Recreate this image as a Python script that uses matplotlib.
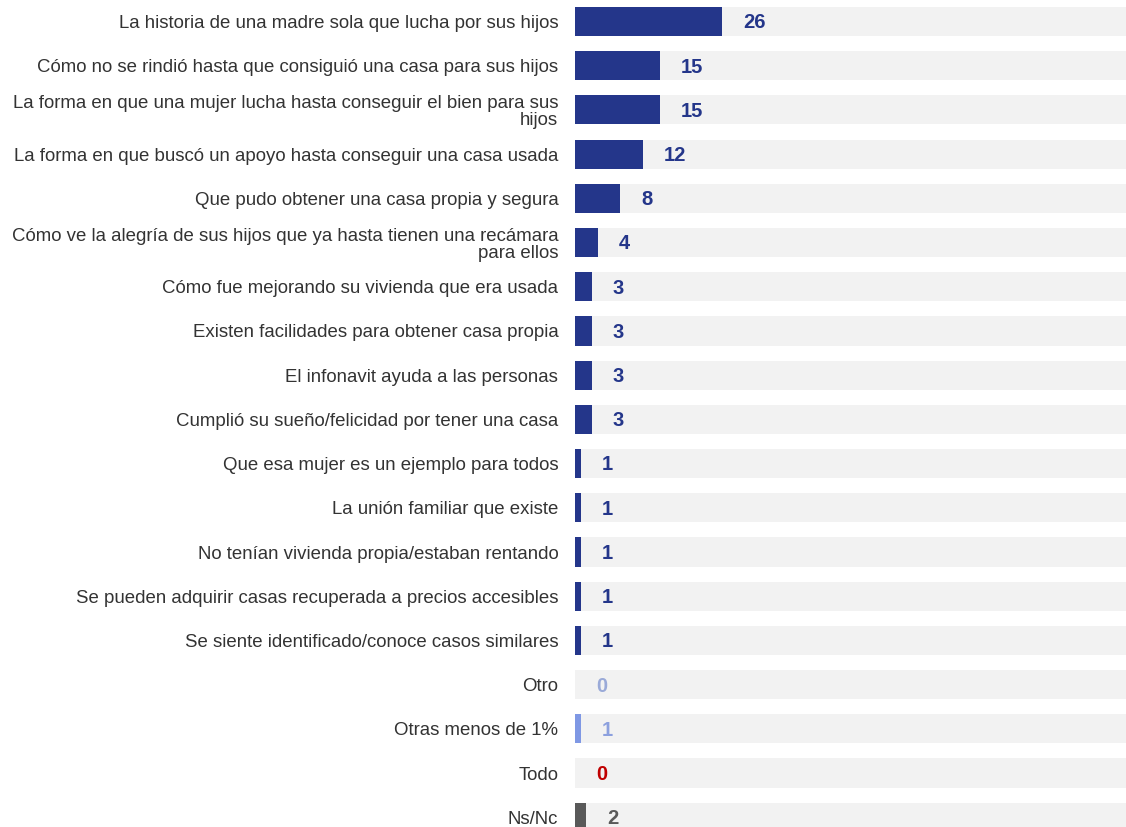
import numpy as np
import matplotlib
matplotlib.use('Agg')
import matplotlib.pyplot as plt

plt.rcParams['font.family'] = ['Liberation Sans', 'DejaVu Sans']

categories = [
    'La historia de una madre sola que lucha por sus hijos',
    'Cómo no se rindió hasta que consiguió una casa para sus hijos',
    'La forma en que una mujer lucha hasta conseguir el bien para sus\nhijos',
    'La forma en que buscó un apoyo hasta conseguir una casa usada',
    'Que pudo obtener una casa propia y segura',
    'Cómo ve la alegría de sus hijos que ya hasta tienen una recámara\npara ellos',
    'Cómo fue mejorando su vivienda que era usada',
    'Existen facilidades para obtener casa propia',
    'El infonavit ayuda a las personas',
    'Cumplió su sueño/felicidad por tener una casa',
    'Que esa mujer es un ejemplo para todos',
    'La unión familiar que existe',
    'No tenían vivienda propia/estaban rentando',
    'Se pueden adquirir casas recuperada a precios accesibles',
    'Se siente identificado/conoce casos similares',
    'Otro',
    'Otras menos de 1%',
    'Todo',
    'Ns/Nc',
]
values = [26, 15, 15, 12, 8, 4, 3, 3, 3, 3, 1, 1, 1, 1, 1, 0, 1, 0, 2]

dark_blue = '#24368A'
bar_colors = [dark_blue] * 15 + ['#9AAAD8', '#7F98E4', '#C00000', '#595959']
text_colors = [dark_blue] * 15 + ['#9AAAD8', '#8CA0DE', '#C00000', '#595959']

fig = plt.figure(figsize=(11.26, 8.27), dpi=100)
ax = fig.add_axes([575 / 1126, 0, 551 / 1126, 1])

y = np.arange(len(categories))
bar_h = 0.66

# grey background track
ax.barh(y, [100] * len(y), height=bar_h, color='#F2F2F2', zorder=1)
bars = ax.barh(y, values, height=bar_h, color=bar_colors, zorder=2)

for yi, v, c in zip(y, values, text_colors):
    ax.annotate(str(v), xy=(v, yi), xytext=(15, -1), textcoords='offset points',
                ha='left', va='center', fontsize=14.5, fontweight='bold', color=c,
                zorder=3)

ax.set_xlim(0, 97.5)
ax.set_ylim(18.22, -0.486)
ax.set_yticks(y)
ax.set_yticklabels(categories, fontsize=13.4, color='#333333', ha='right',
                   linespacing=1.0)
ax.tick_params(axis='y', length=0, pad=12)
ax.set_xticks([])
for s in ax.spines.values():
    s.set_visible(False)

fig.savefig('out.png', dpi=100)
